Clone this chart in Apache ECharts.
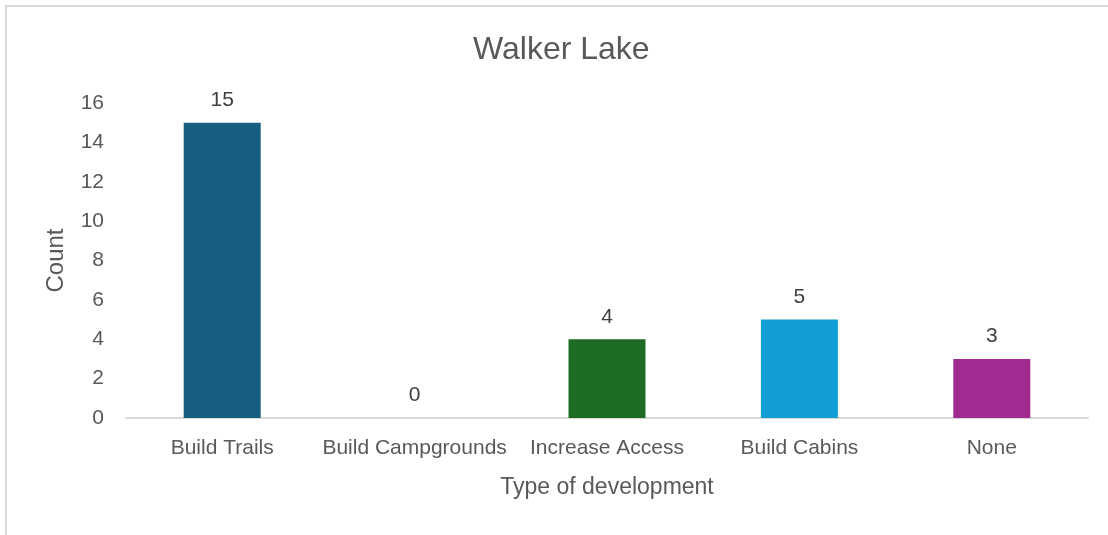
<!DOCTYPE html>
<html>
<head>
<meta charset="utf-8">
<script src="https://cdn.jsdelivr.net/npm/echarts@6/dist/echarts.min.js"></script>
<style>
  html, body { margin: 0; padding: 0; background: #fff; }
  #frame { position: absolute; left: 5px; top: 5px; width: 1110px; height: 540px; border: 2px solid #d9d9d9; box-sizing: border-box; }
  #main { position: absolute; left: 0; top: 0; width: 1108px; height: 535px; }
</style>
</head>
<body>
<div id="frame"></div>
<div id="main"></div>
<script>
// categories and counts
var categories = ["Build Trails", "Build Campgrounds", "Increase Access", "Build Cabins", "None"];
var counts = [15, 0, 4, 5, 3];
var barColors = ["#175f80", "#175f80", "#1e6b24", "#139fd6", "#a02b91"];
var yTicks = { min: 0, max: 16, interval: 2 };

var font = "'Liberation Sans', Arial, sans-serif";
var grey = "#595959";

var myChart = echarts.init(document.getElementById("main"));

var option = {
  animation: false,
  title: {
    text: "Walker Lake",
    left: 468,
    top: 29,
    textStyle: { fontFamily: font, fontSize: 32, fontWeight: "normal", color: grey }
  },
  grid: { left: 126, right: 20, top: 103, bottom: 117 },
  xAxis: {
    type: "category",
    data: categories,
    name: "Type of development",
    nameLocation: "middle",
    nameGap: 58,
    nameTextStyle: { fontFamily: font, fontSize: 23, color: grey },
    axisLine: { lineStyle: { color: "#d9d9d9", width: 2 } },
    axisTick: { show: false },
    axisLabel: { interval: 0, fontFamily: font, fontSize: 21, color: grey, margin: 20 }
  },
  yAxis: {
    type: "value",
    min: yTicks.min,
    max: yTicks.max,
    interval: yTicks.interval,
    name: "Count",
    nameLocation: "middle",
    nameGap: 58,
    nameTextStyle: { fontFamily: font, fontSize: 24, color: grey },
    axisLine: { show: false },
    axisTick: { show: false },
    splitLine: { show: false },
    axisLabel: { fontFamily: font, fontSize: 21, color: grey, margin: 22 }
  },
  series: [
    {
      type: "bar",
      barWidth: 77,
      data: counts.map(function (v, i) {
        return { value: v, itemStyle: { color: barColors[i] } };
      }),
      label: {
        show: true,
        position: "top",
        distance: 12,
        fontFamily: font,
        fontSize: 21,
        color: "#404040"
      }
    }
  ]
};
myChart.setOption(option);
</script>
</body>
</html>
